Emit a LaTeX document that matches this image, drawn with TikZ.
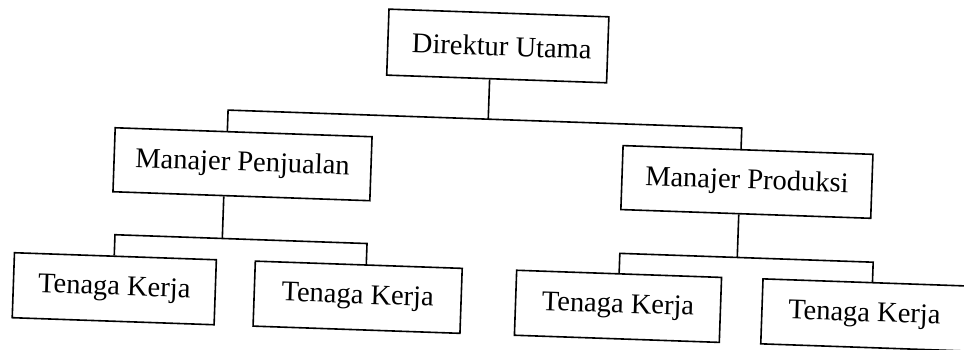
\documentclass[tikz,border=0pt]{standalone}
\usepackage{fontspec}
\setmainfont{Liberation Serif}
\usetikzlibrary{calc}
\tikzset{
  box/.style={draw, line width=1.6pt, minimum height=65pt, inner sep=0pt,
              font=\fontsize{28.5}{34}\selectfont},
  link/.style={line width=1.6pt},
}
\begin{document}
\begin{tikzpicture}[x=1pt,y=1pt]
\useasboundingbox (5.8,-16.93) rectangle (969.8,332.07);
\clip (5.8,-16.93) rectangle (969.8,332.07);
\begin{scope}[rotate=-2, transform shape]
  \node[box, minimum width=220pt, minimum height=66pt] (dir) at (493.3,303.5) {\hspace*{8pt}Direktur Utama};
  \node[box, minimum width=257pt, minimum height=64pt] (mp)  at (242.3,176.4) {Manajer Penjualan};
  \node[box, minimum width=250pt, minimum height=64pt] (mpr) at (747,176.3) {Manajer Produksi};
  \node[box, minimum width=202pt] (tk1) at (118.5,47.5) {Tenaga Kerja};
  \node[box, minimum width=207pt] (tk2) at (362,47.5) {Tenaga Kerja};
  \node[box, minimum width=205pt] (tk3) at (622.5,47.5) {Tenaga Kerja};
  \node[box, minimum width=260pt] (tk4) at (896.5,47.5) {Tenaga Kerja\hspace*{55pt}};

  \coordinate (b0) at (486.3,230);
  \coordinate (bL) at (226,230);
  \coordinate (bR) at (740,230);
  \coordinate (c0) at (224.7,101.5);
  \coordinate (cL) at (117.3,101.5);
  \coordinate (cR) at (369.5,101.5);
  \coordinate (d0) at (740,100.5);
  \coordinate (dL) at (622.5,100.5);
  \coordinate (dR) at (876,100.5);

  \draw[link] ($(dir.south)+(-7,0)$) -- (b0);
  \draw[link] ($(mp.north)+(-16.3,0)$) -- (bL) -- (bR) -- ($(mpr.north)+(-7,0)$);

  \draw[link] ($(mp.south)+(-17.6,0)$) -- (c0);
  \draw[link] ($(tk1.north)+(-1.2,0)$) -- (cL) -- (cR) -- ($(tk2.north)+(7.5,0)$);

  \draw[link] ($(mpr.south)+(-7,0)$) -- (d0);
  \draw[link] (tk3.north) -- (dL) -- (dR) -- ($(tk4.north)+(-20.5,0)$);
\end{scope}
\end{tikzpicture}
\end{document}
